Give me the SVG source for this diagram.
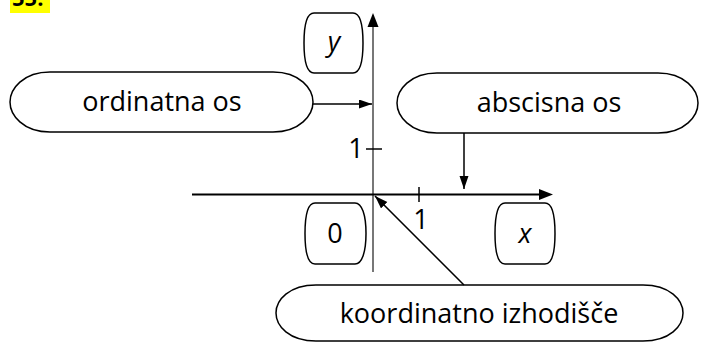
<svg xmlns="http://www.w3.org/2000/svg" width="701" height="342" viewBox="0 0 701 342">
<style>
.shape{fill:#fff;stroke:#000;stroke-width:1.5}
.lbl{font-family:"Open Sans","Noto Sans",sans-serif;font-size:27px;fill:#000;text-anchor:middle}
.it{font-style:italic}
.con{stroke:#000;stroke-width:1.5;fill:none}
</style>
<defs>
<marker id="ah" markerUnits="userSpaceOnUse" markerWidth="14" markerHeight="10" refX="13" refY="4.5" orient="auto" viewBox="0 0 14 10">
<path d="M0,0 L13,4.5 L0,9 Z" fill="#000"/>
</marker>
</defs>
<rect x="10" y="0" width="40" height="13" fill="#ffff00"/>
<text x="12" y="5.5" font-family="'Open Sans',sans-serif" font-weight="bold" font-size="22">55.</text>
<g id="axes">
<line x1="373" y1="272" x2="373" y2="26" stroke="#555" stroke-width="1.6"/>
<path d="M373,13 L367.5,27 L378.5,27 Z" fill="#000"/>
<line x1="192" y1="194.5" x2="540" y2="194.5" stroke="#000" stroke-width="2"/>
<path d="M553,194.5 L539,189 L539,200 Z" fill="#000"/>
<line x1="366" y1="149" x2="382" y2="149" stroke="#000" stroke-width="1.5"/>
<line x1="419" y1="187" x2="419" y2="202" stroke="#000" stroke-width="1.5"/>
<text class="lbl" x="356" y="158">1</text>
<text class="lbl" x="421" y="229">1</text>
</g>
<g id="node-y">
<path class="shape" d="M314,13 H353 C360,13 363,25 363,43 C363,61 360,73 353,73 H314 C307,73 304,61 304,43 C304,25 307,13 314,13 Z"/>
<text class="lbl it" x="334" y="51">y</text>
</g>
<g id="node-0">
<path class="shape" d="M315,203 H355 C362,203 366,215 366,233.5 C366,252 362,264 355,264 H315 C308,264 305,252 305,233.5 C305,215 308,203 315,203 Z"/>
<text class="lbl" x="335" y="243">0</text>
</g>
<g id="node-x">
<path class="shape" d="M505,203 H545 C552,203 555,215 555,233.5 C555,252 552,264 545,264 H505 C498,264 495,252 495,233.5 C495,215 498,203 505,203 Z"/>
<text class="lbl it" x="525" y="243">x</text>
</g>
<g id="node-ordinatna">
<path class="shape" d="M50,72 H273 C300,72 313,89 313,102 C313,115 300,132 273,132 H50 C23,132 10,115 10,102 C10,89 23,72 50,72 Z"/>
<text class="lbl" x="162" y="111">ordinatna os</text>
</g>
<g id="node-abscisna">
<path class="shape" d="M437,73 H658 C685,73 698,90 698,103 C698,116 685,133 658,133 H437 C410,133 397,116 397,103 C397,90 410,73 437,73 Z"/>
<text class="lbl" x="549" y="112">abscisna os</text>
</g>
<g id="node-koordinatno">
<path class="shape" d="M316,285 H643 C670,285 683,300 683,313 C683,326 670,341 643,341 H316 C289,341 276,326 276,313 C276,300 289,285 316,285 Z"/>
<text class="lbl" x="479" y="323">koordinatno izhodišče</text>
</g>
<g id="connectors">
<line class="con" x1="313" y1="104" x2="372" y2="104" marker-end="url(#ah)"/>
<line class="con" x1="464" y1="133" x2="464" y2="189" marker-end="url(#ah)"/>
<line class="con" x1="464" y1="285" x2="375" y2="196" marker-end="url(#ah)"/>
</g>
</svg>
